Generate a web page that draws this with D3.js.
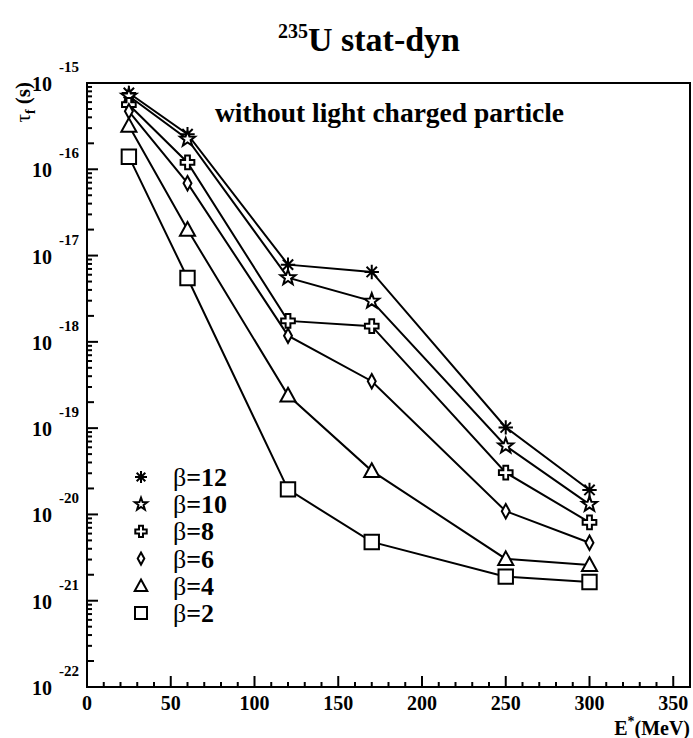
<!DOCTYPE html>
<html><head><meta charset="utf-8">
<script src="https://cdn.jsdelivr.net/npm/d3@7"></script>
<style>body{margin:0;background:#fff} svg text{font-family:"Liberation Serif","Times New Roman",serif}</style>
</head><body>
<svg id="c" width="693" height="738"></svg>
<script>
const energies = [25, 60, 120, 170, 250, 300];
const beta12 = [7.66e-16, 2.55e-16, 7.85e-18, 6.46e-18, 1.02e-19, 1.92e-20];
const beta10 = [7.06e-16, 2.23e-16, 5.55e-18, 2.97e-18, 6.22e-20, 1.31e-20];
const beta8  = [5.6e-16, 1.2e-16, 1.75e-18, 1.52e-18, 3.05e-20, 8.1e-21];
const beta6  = [4.7e-16, 6.9e-17, 1.18e-18, 3.5e-19, 1.09e-20, 4.7e-21];
const beta4  = [3.2e-16, 2.0e-17, 2.4e-19, 3.2e-20, 3.05e-21, 2.6e-21];
const beta2  = [1.4e-16, 5.5e-18, 1.95e-20, 4.8e-21, 1.9e-21, 1.65e-21];
const seriesNames = ["β=12", "β=10", "β=8", "β=6", "β=4", "β=2"];
const markerTypes = ["asterisk", "star", "cross", "diamond", "triangle", "square"];
const xTicks = [0, 50, 100, 150, 200, 250, 300, 350];
const yExponents = [-22, -21, -20, -19, -18, -17, -16, -15];

const series = [beta12, beta10, beta8, beta6, beta4, beta2];
const svg = d3.select("#c");
const L = 87, R = 690, T = 83, B = 687;
const x = d3.scaleLinear().domain([0, 360]).range([L, R]);
const y = d3.scaleLog().domain([1e-22, 1e-15]).range([B, T]);

function markerPath(type, s) {
  const p = d3.path();
  if (type === "square") { p.rect(-s, -s, 2*s, 2*s); }
  else if (type === "triangle") { p.moveTo(0, -s*1.05); p.lineTo(s*1.05, s*0.85); p.lineTo(-s*1.05, s*0.85); p.closePath(); }
  else if (type === "diamond") { p.moveTo(0, -s); p.lineTo(s*0.55, 0); p.lineTo(0, s); p.lineTo(-s*0.55, 0); p.closePath(); }
  else if (type === "cross") {
    const a = s*0.33, b = s*0.95;
    p.moveTo(-a, -b); p.lineTo(a, -b); p.lineTo(a, -a); p.lineTo(b, -a); p.lineTo(b, a);
    p.lineTo(a, a); p.lineTo(a, b); p.lineTo(-a, b); p.lineTo(-a, a); p.lineTo(-b, a);
    p.lineTo(-b, -a); p.lineTo(-a, -a); p.closePath();
  }
  else if (type === "star") {
    const ro = s*1.1, ri = s*0.45;
    for (let i = 0; i < 10; i++) {
      const r = i % 2 ? ri : ro, ang = -Math.PI/2 + i*Math.PI/5;
      const px = r*Math.cos(ang), py = r*Math.sin(ang);
      if (i === 0) p.moveTo(px, py); else p.lineTo(px, py);
    }
    p.closePath();
  }
  else if (type === "asterisk") {
    const r = s, d = s*0.72;
    p.moveTo(-r, 0); p.lineTo(r, 0); p.moveTo(0, -r); p.lineTo(0, r);
    p.moveTo(-d, -d); p.lineTo(d, d); p.moveTo(-d, d); p.lineTo(d, -d);
  }
  return p.toString();
}

// Title
const title = svg.append("text").attr("x", 369).attr("y", 51).attr("text-anchor", "middle")
  .attr("font-weight", "bold").attr("font-size", 34);
title.append("tspan").attr("font-size", 20).attr("dy", -13).text("235");
title.append("tspan").attr("dy", 13).text("U stat-dyn");

// Frame
svg.append("rect").attr("x", L).attr("y", T).attr("width", R - L).attr("height", B - T)
  .attr("fill", "none").attr("stroke", "#000").attr("stroke-width", 2);

// X ticks
const xMinor = d3.range(0, 361, 10);
svg.append("g").selectAll("line").data(xMinor).join("line")
  .attr("x1", d => x(d)).attr("x2", d => x(d))
  .attr("y1", B).attr("y2", d => B - (d % 50 === 0 ? 11 : 5))
  .attr("stroke", "#000").attr("stroke-width", 2);
svg.append("g").selectAll("text").data(xTicks).join("text")
  .attr("x", d => x(d)).attr("y", 710).attr("text-anchor", "middle")
  .attr("font-weight", "bold").attr("font-size", 20).text(d => d);
const xl = svg.append("text").attr("x", 690).attr("y", 735).attr("text-anchor", "end")
  .attr("font-weight", "bold").attr("font-size", 20);
xl.append("tspan").text("E");
xl.append("tspan").attr("dy", -9).attr("font-size", 14).text("*");
xl.append("tspan").attr("dy", 9).text("(MeV)");

// Y ticks
const yMinor = [];
for (let e = -22; e < -15; e++) for (let m = 1; m <= 9; m++) yMinor.push({v: m * Math.pow(10, e), m});
yMinor.push({v: 1e-15, m: 1});
svg.append("g").selectAll("line").data(yMinor).join("line")
  .attr("x1", L).attr("x2", d => L + (d.m === 1 ? 11 : (d.m === 2 ? 7 : 5)))
  .attr("y1", d => y(d.v)).attr("y2", d => y(d.v))
  .attr("stroke", "#000").attr("stroke-width", 2);
const yl = svg.append("g").selectAll("g").data(yExponents).join("g");
yl.append("text").attr("x", 52).attr("y", d => y(Math.pow(10, d)) + 8).attr("text-anchor", "end")
  .attr("font-weight", "bold").attr("font-size", 20).text("10");
yl.append("text").attr("x", 59).attr("y", d => y(Math.pow(10, d)) - 11)
  .attr("font-weight", "bold").attr("font-size", 15).text(d => d);

// Y label
const ylab = svg.append("text").attr("transform", "translate(30,82) rotate(-90)").attr("text-anchor", "end")
  .attr("font-weight", "bold").attr("font-size", 21);
ylab.append("tspan").attr("font-weight", "normal").text("τ");
ylab.append("tspan").attr("font-size", 14).attr("dy", 5).text("f");
ylab.append("tspan").attr("dy", -5).text(" (s)");

// Annotation
svg.append("text").attr("x", 215).attr("y", 122)
  .attr("font-weight", "bold").attr("font-size", 27.5).text("without light charged particle");

// Lines and markers
const line = d3.line().x(d => x(d[0])).y(d => y(d[1]));
series.forEach((vals, i) => {
  const pts = energies.map((e, j) => [e, vals[j]]);
  svg.append("path").attr("d", line(pts)).attr("fill", "none").attr("stroke", "#000").attr("stroke-width", 2);
  svg.append("g").selectAll("path").data(pts).join("path")
    .attr("transform", d => `translate(${x(d[0])},${y(d[1])})`)
    .attr("d", markerPath(markerTypes[i], 7.2))
    .attr("fill", markerTypes[i] === "asterisk" ? "none" : "#fff")
    .attr("stroke", "#000").attr("stroke-width", 2);
});

// Legend
const leg = svg.append("g").selectAll("g").data(seriesNames).join("g")
  .attr("transform", (d, i) => `translate(0,${477 + i * 27.2})`);
leg.append("path").attr("transform", "translate(141,0)")
  .attr("d", (d, i) => markerPath(markerTypes[i], 6))
  .attr("fill", "none").attr("stroke", "#000").attr("stroke-width", 2);
const lt = leg.append("text").attr("x", 173).attr("y", 9).attr("font-size", 26);
lt.append("tspan").text(d => d.slice(0, 1));
lt.append("tspan").attr("font-weight", "bold").text(d => d.slice(1));
</script>
</body></html>
